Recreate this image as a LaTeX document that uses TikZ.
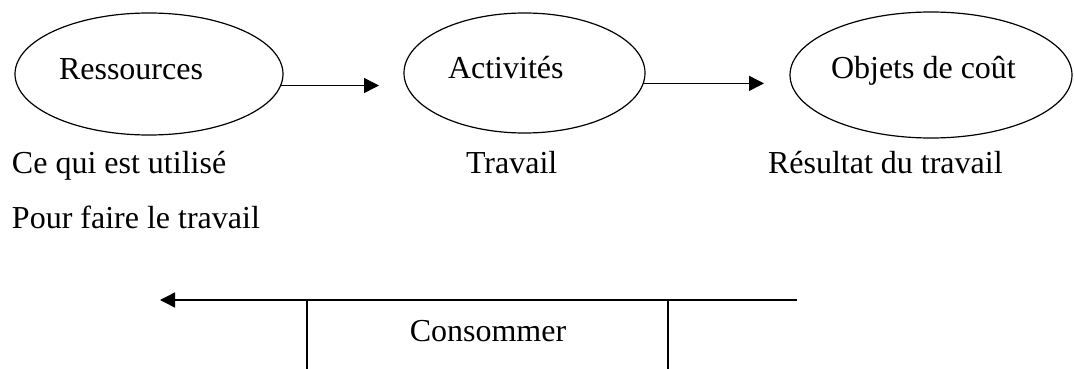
\documentclass[tikz,border=0pt]{standalone}
\usepackage{fontspec}
\setmainfont{Liberation Serif}
\usetikzlibrary{arrows.meta,shapes.geometric}
\begin{document}
\begin{tikzpicture}[x=1pt,y=-1pt,
  every node/.style={font=\fontsize{32}{38}\selectfont, inner sep=0pt, outer sep=0pt},
  stage/.style={draw, line width=1.2pt, ellipse},
  txt/.style={anchor=base west},
  flow/.style={line width=1.4pt, -{Triangle[length=15pt,width=15pt]}},
  rule/.style={line width=1.4pt}]
\useasboundingbox (0,0) rectangle (1074,369);

% the three stages
\node[stage, minimum width=268pt, minimum height=122pt] (e1) at (149,74) {};
\node[stage, minimum width=241pt, minimum height=120pt] (e2) at (524.5,73) {};
\node[stage, minimum width=282pt, minimum height=126pt] (e3) at (931,75) {};

\node[txt] (n1) at (59,80) {Ressources};
\node[txt] (n2) at (448,79) {Activités};
\node[txt] (n3) at (831,79) {Objets de coût};

% arrows between stages
\coordinate (t1) at (379,86);
\coordinate (t2) at (764,85);
\draw[flow] (e1.-5.2) -- (e1.-5.2 -| t1);
\draw[flow] (e2.-5.7) -- (e2.-5.7 -| t2);

% descriptions under the stages
\node[txt] (d1) at (12,173) {Ce qui est utilisé};
\node[txt] (d1b) at (12,228) {Pour faire le travail};
\node[txt] (d2) at (466,173) {Travail};
\node[txt] (d3) at (768,173) {Résultat du travail};

% consumption arrow, running backwards
\coordinate (cr) at (797,300);
\coordinate (cl) at (160,300);
\draw[flow] (cr) -- (cl);
\coordinate (va) at (307,300);
\coordinate (vb) at (668,300);
\coordinate (va2) at (307,369);
\coordinate (vb2) at (668,369);
\draw[rule] (va) -- (va2);
\draw[rule] (vb) -- (vb2);
\node[anchor=base] (c) at (488,341) {Consommer};
\end{tikzpicture}
\end{document}
